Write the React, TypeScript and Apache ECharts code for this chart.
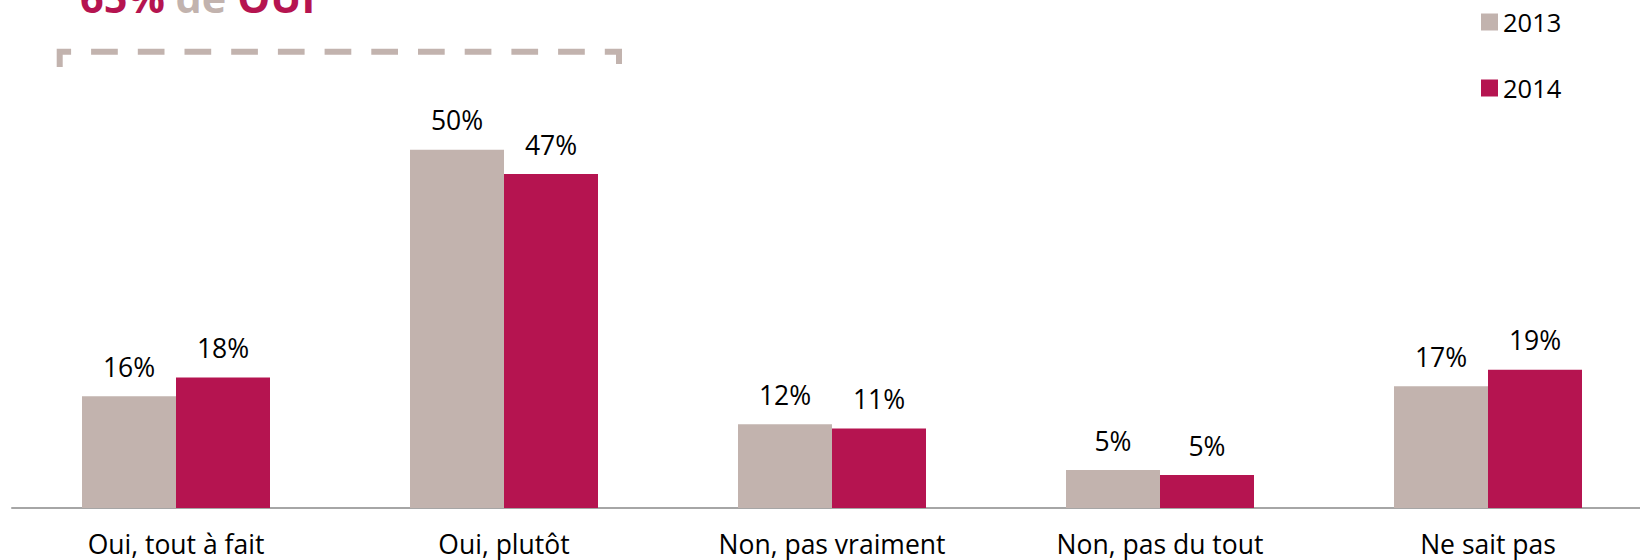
import React, { useEffect, useRef } from "react";
import * as echarts from "echarts";

const categories = ["Oui, tout à fait", "Oui, plutôt", "Non, pas vraiment", "Non, pas du tout", "Ne sait pas"];
const seriesNames = ["2013", "2014"];
const values2013 = [15.6, 50, 11.7, 5.3, 17.0];
const values2014 = [18.2, 46.6, 11.1, 4.6, 19.3];
const colors = ["#C2B3AE", "#B51450"];
const titleParts = ["65%", "de", "OUI"];

const FONT = "'Open Sans', sans-serif";

export default function App() {
  const ref = useRef<HTMLDivElement>(null);
  useEffect(() => {
    if (!ref.current) return;
    const chart = echarts.init(ref.current, null, { renderer: "svg" });
    const label = {
      show: true,
      position: "top",
      distance: 16,
      fontSize: 26.5,
      fontFamily: FONT,
      color: "#000",
      formatter: (p: any) => Math.round(p.value) + "%",
    };
    chart.setOption({
      animation: false,
      backgroundColor: "#fff",
      grid: { left: 12, top: 78, width: 1640, height: 430, containLabel: false },
      legend: {
        orient: "vertical",
        left: 1481,
        top: 9,
        padding: 0,
        itemWidth: 17,
        itemHeight: 17,
        itemGap: 40,
        icon: "rect",
        textStyle: { fontSize: 25.5, fontFamily: FONT, color: "#000" },
        data: seriesNames,
      },
      xAxis: {
        type: "category",
        data: categories,
        axisTick: { show: false },
        axisLine: { show: true, lineStyle: { color: "#A6A6A6", width: 2 } },
        axisLabel: { fontSize: 26.5, fontFamily: FONT, color: "#000", margin: 22 },
      },
      yAxis: {
        type: "value",
        min: 0,
        max: 60,
        show: false,
        splitLine: { show: false },
      },
      series: [
        {
          name: seriesNames[0],
          type: "bar",
          data: values2013,
          barWidth: 94,
          barGap: "0%",
          itemStyle: { color: colors[0] },
          label,
        },
        {
          name: seriesNames[1],
          type: "bar",
          data: values2014,
          barWidth: 94,
          barGap: "0%",
          itemStyle: { color: colors[1] },
          label,
        },
      ],
      graphic: [
        {
          type: "text",
          left: 80,
          top: -24,
          style: {
            text: `{a|${titleParts[0]}} {b|${titleParts[1]}} {a|${titleParts[2]}}`,
            rich: {
              a: { fontSize: 41.5, fontWeight: "bold", fontFamily: FONT, fill: colors[1], color: colors[1] },
              b: { fontSize: 41.5, fontWeight: "bold", fontFamily: FONT, fill: colors[0], color: colors[0] },
            },
            fontSize: 41.5,
            fontWeight: "bold",
            fontFamily: FONT,
          },
        },
        {
          type: "polyline",
          shape: {
            points: [
              [59.7, 67],
              [59.7, 51.7],
              [619, 51.7],
              [619, 64],
            ],
          },
          style: {
            stroke: colors[0],
            lineWidth: 6,
            fill: null,
            lineDash: [26.7, 20],
            lineCap: "butt",
            lineJoin: "miter",
          },
        },
      ],
    });
    return () => chart.dispose();
  }, []);
  return (
    <div
      ref={ref}
      style={{ position: "fixed", left: 0, top: 0, width: 1660, height: 560, background: "#fff" }}
    />
  );
}
